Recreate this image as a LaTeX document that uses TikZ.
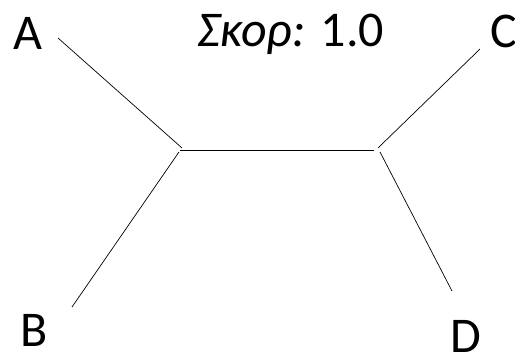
\documentclass[tikz,border=0pt]{standalone}
\usepackage{fontspec}
\setmainfont{Carlito}
\begin{document}
\begin{tikzpicture}[x=1pt,y=-1pt,
  edge/.style={line width=0.7pt, black},
  lbl/.style={anchor=base, inner sep=0pt, font=\fontsize{50}{60}\selectfont}]
\useasboundingbox (0,0) rectangle (515,358);
% labels
\node[lbl] (A) at (28,50) {A};
\node[lbl] (B) at (34.5,347) {B};
\node[lbl] (C) at (504,48) {C};
\node[lbl] (D) at (466,353) {D};
\node[lbl, anchor=base west] (title) at (197,47) {{\itshape Σκορ:} 1.0};
% endpoints
\coordinate (a1) at (58,38);   \coordinate (a2) at (182,148);
\coordinate (b1) at (72,307);  \coordinate (b2) at (179,152);
\coordinate (c1) at (480,49);  \coordinate (c2) at (378,148);
\coordinate (d1) at (452,291); \coordinate (d2) at (380,152);
\coordinate (h1) at (180,150); \coordinate (h2) at (374,150);
\draw[edge] (a1) -- (a2);
\draw[edge] (b1) -- (b2);
\draw[edge] (c1) -- (c2);
\draw[edge] (d1) -- (d2);
\draw[edge] (h1) -- (h2);
\end{tikzpicture}
\end{document}
